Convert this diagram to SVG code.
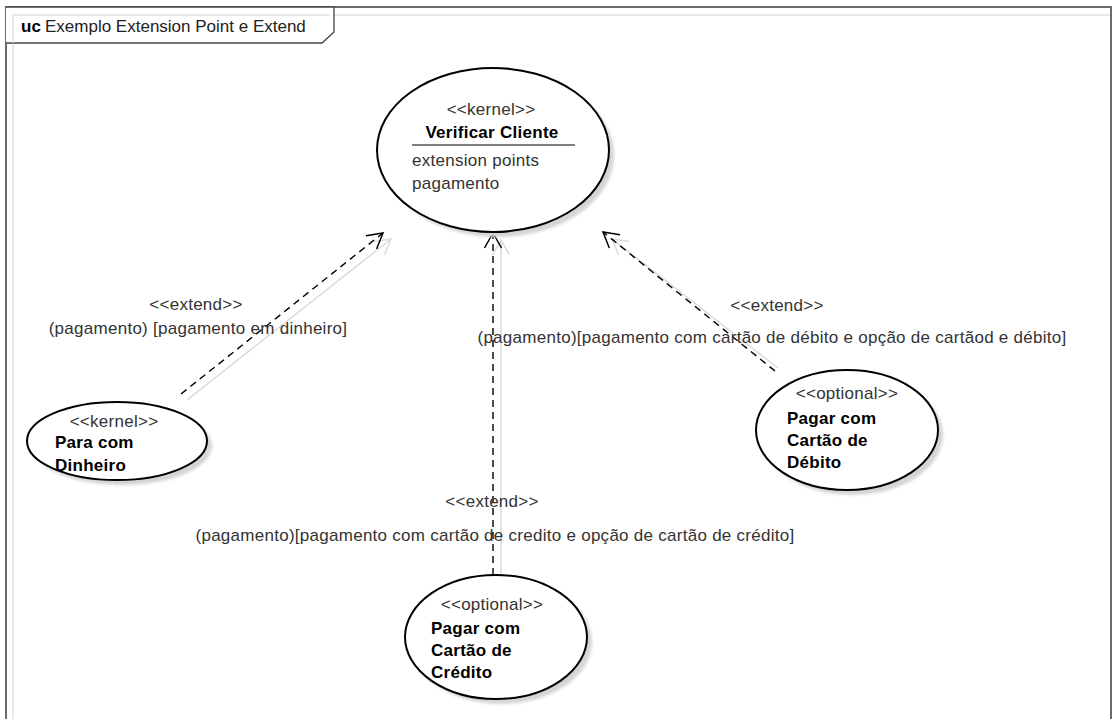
<svg xmlns="http://www.w3.org/2000/svg" width="1113" height="719" viewBox="0 0 1113 719">
  <style>
    text { font-family: "Liberation Sans", Arial, sans-serif; font-size: 17px; fill: #333; letter-spacing: 0.27px; }
    .title { fill: #000; font-weight: bold; }
    .uc { fill: #000; font-weight: bold; letter-spacing: 0; }
    .caption { fill: #222; letter-spacing: 0; }
    .case { fill: #fff; stroke: #000; stroke-width: 2; }
    .shadow { fill: #d4d4d4; stroke: none; }
    .dep { fill: none; stroke: #000; stroke-width: 1.4; stroke-dasharray: 7 5; }
    .depShadow { fill: none; stroke: #dadada; stroke-width: 1.5; }
  </style>
  <defs>
    <filter id="soft" x="-10%" y="-10%" width="120%" height="120%">
      <feGaussianBlur stdDeviation="1.8"/>
    </filter>
    <marker id="open" markerUnits="userSpaceOnUse" viewBox="-17 -11 19 22" markerWidth="19" markerHeight="22" refX="0" refY="0" orient="auto" overflow="visible">
      <path d="M-15,-8.5 L0,0 L-15,8.5" fill="none" stroke="#000" stroke-width="1.5"/>
    </marker>
    <marker id="openShadow" markerUnits="userSpaceOnUse" viewBox="-17 -11 19 22" markerWidth="19" markerHeight="22" refX="0" refY="0" orient="auto" overflow="visible">
      <path d="M-15,-8.5 L0,0 L-15,8.5" fill="none" stroke="#dadada" stroke-width="1.5"/>
    </marker>
  </defs>

  <rect width="1113" height="719" fill="#fff"/>

  <!-- diagram frame -->
  <g id="frame">
    <path d="M13,719 V15 H1111" fill="none" stroke="#e2e2e2" stroke-width="1.5"/>
    <path d="M6,719 V7 H1111 V719" fill="none" stroke="#6a6a6a" stroke-width="2"/>
    <path d="M6,7 H334 V32 L322,43 H6" fill="#fff" stroke="#444" stroke-width="1.3"/>
    <path d="M13,43 V15 H330" fill="none" stroke="#e2e2e2" stroke-width="1.5"/>
    <text x="21" y="32" class="uc">uc</text>
    <text x="45" y="32" class="caption">Exemplo Extension Point e Extend</text>
  </g>

  <!-- extend dependencies -->
  <g id="connectors">
    <line class="depShadow" x1="187" y1="400" x2="391" y2="239" marker-end="url(#openShadow)"/>
    <line class="depShadow" x1="501" y1="575" x2="501" y2="240" marker-end="url(#openShadow)"/>
    <line class="depShadow" x1="778" y1="368" x2="612" y2="239" marker-end="url(#openShadow)"/>
    <line class="dep" x1="181" y1="394" x2="383" y2="233" marker-end="url(#open)"/>
    <line class="dep" x1="493" y1="575" x2="493" y2="233" marker-end="url(#open)"/>
    <line class="dep" x1="775" y1="371" x2="603" y2="232" marker-end="url(#open)"/>

    <text x="196" y="310" text-anchor="middle">&lt;&lt;extend&gt;&gt;</text>
    <text x="198" y="334" text-anchor="middle">(pagamento) [pagamento em dinheiro]</text>

    <text x="777" y="311" text-anchor="middle">&lt;&lt;extend&gt;&gt;</text>
    <text x="772" y="343" text-anchor="middle">(pagamento)[pagamento com cartão de débito e opção de cartãod e débito]</text>

    <text x="492" y="507" text-anchor="middle">&lt;&lt;extend&gt;&gt;</text>
    <text x="495" y="541" text-anchor="middle">(pagamento)[pagamento com cartão de credito e opção de cartão de crédito]</text>
  </g>

  <!-- base use case -->
  <g id="verificar-cliente">
    <ellipse class="shadow" cx="498" cy="155" rx="116" ry="82" filter="url(#soft)"/>
    <ellipse class="case" cx="493" cy="150" rx="116" ry="82"/>
    <text x="491" y="115" text-anchor="middle">&lt;&lt;kernel&gt;&gt;</text>
    <text x="492" y="138" text-anchor="middle" class="title">Verificar Cliente</text>
    <line x1="412" y1="145" x2="575" y2="145" stroke="#555" stroke-width="1.6"/>
    <text x="412" y="166">extension points</text>
    <text x="412" y="189">pagamento</text>
  </g>

  <!-- extending use cases -->
  <g id="para-com-dinheiro">
    <ellipse class="shadow" cx="122" cy="446" rx="90" ry="39" filter="url(#soft)"/>
    <ellipse class="case" cx="117" cy="441" rx="90" ry="39"/>
    <text x="114" y="427" text-anchor="middle">&lt;&lt;kernel&gt;&gt;</text>
    <text x="55" y="448" class="title">Para com</text>
    <text x="55" y="471" class="title">Dinheiro</text>
  </g>

  <g id="pagar-cartao-debito">
    <ellipse class="shadow" cx="852" cy="435" rx="91" ry="60" filter="url(#soft)"/>
    <ellipse class="case" cx="847" cy="430" rx="91" ry="60"/>
    <text x="847" y="399" text-anchor="middle">&lt;&lt;optional&gt;&gt;</text>
    <text x="787" y="424" class="title">Pagar com</text>
    <text x="787" y="446" class="title">Cartão de</text>
    <text x="787" y="468" class="title">Débito</text>
  </g>

  <g id="pagar-cartao-credito">
    <ellipse class="shadow" cx="501" cy="642" rx="91" ry="62" filter="url(#soft)"/>
    <ellipse class="case" cx="496" cy="637" rx="91" ry="62"/>
    <text x="492" y="610" text-anchor="middle">&lt;&lt;optional&gt;&gt;</text>
    <text x="431" y="634" class="title">Pagar com</text>
    <text x="431" y="656" class="title">Cartão de</text>
    <text x="431" y="678" class="title">Crédito</text>
  </g>
</svg>
